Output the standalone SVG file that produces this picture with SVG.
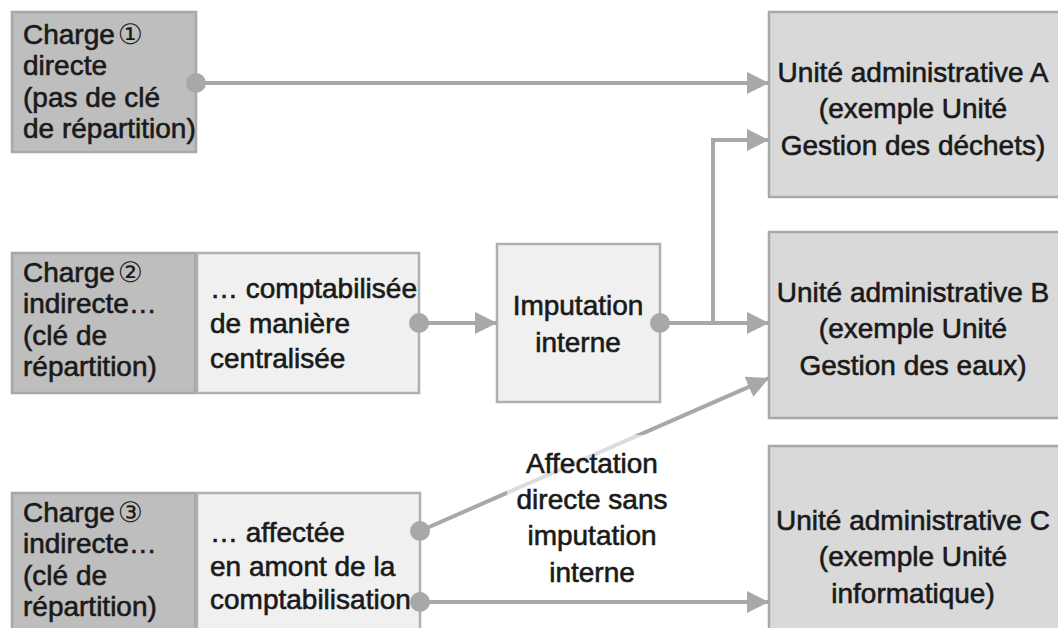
<svg xmlns="http://www.w3.org/2000/svg" width="1058" height="628" viewBox="0 0 1058 628">
  <style>
    .t { font-family: "Liberation Sans", "DejaVu Sans", sans-serif; font-size: 28px; fill: #1a1a1a; stroke: #1a1a1a; stroke-width: 0.6px; }
    .num { stroke: none; }
    .mid { text-anchor: middle; }
    .dark { fill: #bebebe; stroke: #a8a8a8; stroke-width: 2.5; }
    .light { fill: #f0f0f0; stroke: #b0b0b0; stroke-width: 2.5; }
    .unit { fill: #d9d9d9; stroke: #a8a8a8; stroke-width: 2.5; }
    .wire { stroke: #a8a8a8; stroke-width: 4; fill: none; }
    .dot { fill: #a8a8a8; }
  </style>
  <defs>
    <marker id="arrow" markerUnits="userSpaceOnUse" markerWidth="22" markerHeight="22" viewBox="0 0 20 20" refX="20" refY="10" orient="auto">
      <path d="M0,0 L20,10 L0,20 Z" fill="#a8a8a8"/>
    </marker>
  </defs>

  <rect width="1058" height="628" fill="#ffffff"/>

  <!-- cost sources -->
  <g id="charge1">
    <rect class="dark" x="12" y="12" width="184" height="140"/>
    <text class="t" x="23" y="44">Charge<tspan class="num" dx="3">①</tspan></text>
    <text class="t" x="23" y="75">directe</text>
    <text class="t" x="23" y="107">(pas de clé</text>
    <text class="t" x="23" y="138">de répartition)</text>
  </g>

  <g id="charge2">
    <rect class="dark" x="12" y="253" width="183" height="140"/>
    <text class="t" x="23" y="282">Charge<tspan class="num" dx="3">②</tspan></text>
    <text class="t" x="23" y="313">indirecte…</text>
    <text class="t" x="23" y="345">(clé de</text>
    <text class="t" x="23" y="376">répartition)</text>
  </g>

  <g id="centralisee">
    <rect class="light" x="197" y="253" width="222" height="140"/>
    <text class="t" x="210" y="298">… comptabilisée</text>
    <text class="t" x="210" y="333">de manière</text>
    <text class="t" x="210" y="368">centralisée</text>
  </g>

  <g id="charge3">
    <rect class="dark" x="12" y="493" width="183" height="150"/>
    <text class="t" x="23" y="522">Charge<tspan class="num" dx="3">③</tspan></text>
    <text class="t" x="23" y="553">indirecte…</text>
    <text class="t" x="23" y="585">(clé de</text>
    <text class="t" x="23" y="616">répartition)</text>
  </g>

  <g id="amont">
    <rect class="light" x="197" y="493" width="223" height="150"/>
    <text class="t" x="210" y="542">… affectée</text>
    <text class="t" x="210" y="576">en amont de la</text>
    <text class="t" x="210" y="609">comptabilisation</text>
  </g>

  <g id="imputation">
    <rect class="light" x="497" y="244" width="163" height="158"/>
    <text class="t mid" x="578" y="315">Imputation</text>
    <text class="t mid" x="578" y="352">interne</text>
  </g>

  <!-- administrative units -->
  <g id="uniteA">
    <rect class="unit" x="769" y="12" width="300" height="185"/>
    <text class="t mid" x="913" y="82">Unité administrative A</text>
    <text class="t mid" x="913" y="118">(exemple Unité</text>
    <text class="t mid" x="913" y="155">Gestion des déchets)</text>
  </g>

  <g id="uniteB">
    <rect class="unit" x="769" y="232" width="300" height="186"/>
    <text class="t mid" x="913" y="302">Unité administrative B</text>
    <text class="t mid" x="913" y="338">(exemple Unité</text>
    <text class="t mid" x="913" y="375">Gestion des eaux)</text>
  </g>

  <g id="uniteC">
    <rect class="unit" x="769" y="446" width="300" height="200"/>
    <text class="t mid" x="913" y="530">Unité administrative C</text>
    <text class="t mid" x="913" y="566">(exemple Unité</text>
    <text class="t mid" x="913" y="603">informatique)</text>
  </g>

  <!-- connectors -->
  <g id="connectors">
    <line class="wire" x1="196" y1="83" x2="769" y2="83" marker-end="url(#arrow)"/>
    <line class="wire" x1="419" y1="323" x2="497" y2="323" marker-end="url(#arrow)"/>
    <line class="wire" x1="660" y1="323" x2="769" y2="323" marker-end="url(#arrow)"/>
    <polyline class="wire" points="713,323 713,140 769,140" marker-end="url(#arrow)"/>
    <line class="wire" x1="420" y1="531" x2="769" y2="378" marker-end="url(#arrow)"/>
    <line class="wire" x1="420" y1="602" x2="769" y2="602" marker-end="url(#arrow)"/>
    <circle class="dot" cx="196" cy="83" r="10"/>
    <circle class="dot" cx="419" cy="323" r="10"/>
    <circle class="dot" cx="660" cy="323" r="10"/>
    <circle class="dot" cx="420" cy="531" r="10"/>
    <circle class="dot" cx="420" cy="602" r="10"/>
  </g>

  <!-- label of the direct allocation path -->
  <g id="label-affectation">
    <rect x="507" y="435" width="173" height="155" fill="#ffffff" fill-opacity="0.6"/>
    <text class="t mid" x="592" y="473">Affectation</text>
    <text class="t mid" x="592" y="509">directe sans</text>
    <text class="t mid" x="592" y="545">imputation</text>
    <text class="t mid" x="592" y="582">interne</text>
  </g>
</svg>
